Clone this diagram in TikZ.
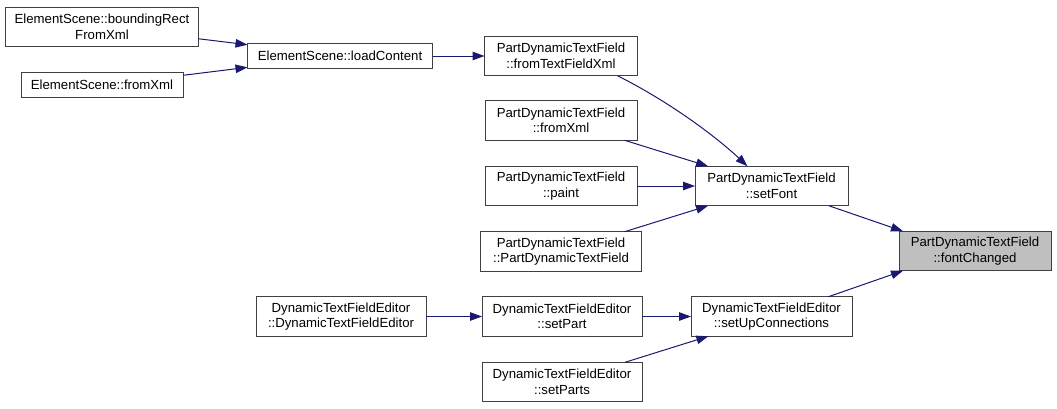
\documentclass[tikz,border=0pt]{standalone}
\usepackage{fontspec}
\setmainfont{Liberation Sans}
\usepackage{tikz}
\usetikzlibrary{arrows.meta, positioning}
\definecolor{edgeblue}{RGB}{25,25,112}
\definecolor{boxgrey}{RGB}{64,64,64}
\definecolor{rootgrey}{RGB}{191,191,191}
\tikzset{
  fnbox/.style={
    rectangle, draw=boxgrey, fill=white, line width=1pt, outer sep=0pt,
    inner xsep=4pt, inner ysep=2pt, minimum height=#1,
    align=center, font=\fontsize{13.2}{15.5}\selectfont
  },
  fnbox/.default=39.5pt,
  rootbox/.style={fnbox, fill=rootgrey},
  callarrow/.style={line width=1pt, -{Triangle[length=12pt, width=8.5pt]}, color=edgeblue},
}
\begin{document}
\begin{tikzpicture}[x=1pt, y=1pt]

  \useasboundingbox (0,0) rectangle (1057,-408);

  % --- Nodo raiz ---
  \node (fontchanged) [rootbox, minimum width=152pt] at (975,-251) {PartDynamicTextField\\::fontChanged};

  % --- Llamadores directos ---
  \node (setfont)   [fnbox, minimum width=153pt, left=51pt of fontchanged, yshift=65pt] {PartDynamicTextField\\::setFont};
  \node (setupconn) [fnbox, minimum width=161pt, below=91pt of setfont]                 {DynamicTextFieldEditor\\::setUpConnections};

  % --- Columna de PartDynamicTextField ---
  \node (paint)       [fnbox, minimum width=152pt, left=58pt of setfont]      {PartDynamicTextField\\::paint};
  \node (pdtffromxml) [fnbox, minimum width=152pt, above=26pt of paint]       {PartDynamicTextField\\::fromXml};
  \node (fromtfx)     [fnbox, minimum width=153pt, above=25pt of pdtffromxml] {PartDynamicTextField\\::fromTextFieldXml};
  \node (pdtfctor)    [fnbox, minimum width=161pt, below=26pt of paint]       {PartDynamicTextField\\::PartDynamicTextField};

  % --- Columna de DynamicTextFieldEditor ---
  \node (setpart)  [fnbox, minimum width=160pt, left=49pt of setupconn] {DynamicTextFieldEditor\\::setPart};
  \node (setparts) [fnbox, minimum width=160pt, below=26pt of setpart]  {DynamicTextFieldEditor\\::setParts};
  \node (dtfector) [fnbox, minimum width=170pt, left=56pt of setpart]   {DynamicTextFieldEditor\\::DynamicTextFieldEditor};

  % --- ElementScene ---
  \node (loadcontent) [fnbox=25pt, minimum width=185pt, left=52pt of fromtfx]         {ElementScene::loadContent};
  \node (brfx)        [fnbox, minimum width=193pt, left=49pt of loadcontent, yshift=29pt] {ElementScene::boundingRect\\FromXml};
  \node (esfromxml)   [fnbox=25pt, minimum width=162pt, below=26pt of brfx]           {ElementScene::fromXml};

  % --- Flechas ---
  \draw[callarrow] (brfx) -- (loadcontent);
  \draw[callarrow] (esfromxml) -- (loadcontent);
  \draw[callarrow] (loadcontent) -- (fromtfx);
  \draw[callarrow] ([xshift=-20pt]fromtfx.south east)
        .. controls +(50pt,-25pt) and +(-33pt,31pt) .. ([xshift=-24pt]setfont.north);
  \draw[callarrow] (pdtffromxml) -- (setfont);
  \draw[callarrow] (paint) -- (setfont);
  \draw[callarrow] (pdtfctor) -- (setfont);
  \draw[callarrow] (setfont) -- ([xshift=4pt]fontchanged.north west);
  \draw[callarrow] (setupconn) -- ([xshift=4pt]fontchanged.south west);
  \draw[callarrow] (dtfector) -- (setpart);
  \draw[callarrow] (setpart) -- (setupconn);
  \draw[callarrow] (setparts) -- (setupconn);

\end{tikzpicture}
\end{document}
